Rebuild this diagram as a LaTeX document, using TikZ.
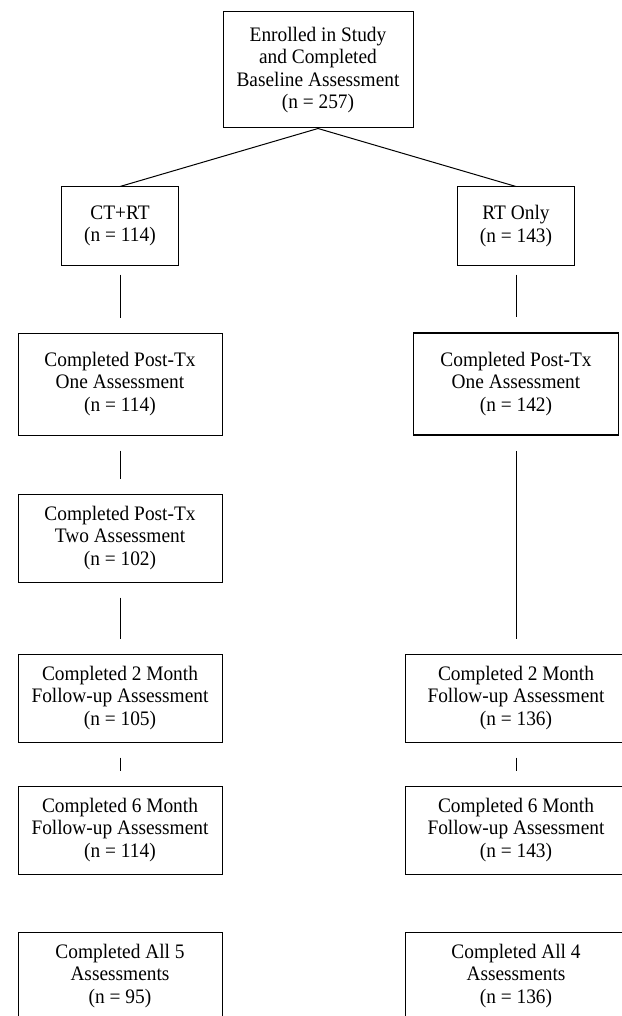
\documentclass[tikz,border=0pt]{standalone}
\usepackage{fontspec}
\setmainfont{Liberation Serif}[FakeStretch=0.94]
\usepackage{tikz}
\usetikzlibrary{shapes}

\begin{document}
\begin{tikzpicture}[-, semithick, line width=1pt, inner sep=0pt,
    box/.style={draw, rectangle, align=center, font=\fontsize{20.6}{22.4}\selectfont},
    narrow/.style={box, minimum width=117pt, minimum height=78pt},
    wide/.style={box, minimum width=204pt, minimum height=88pt},
    wider/.style={box, minimum width=222pt, minimum height=88pt},
    link/.style={shorten <=15pt, shorten >=15pt}]

      \useasboundingbox (0,0) rectangle (621pt,-1016pt);

      \node[box, minimum width=190pt, minimum height=116pt] (base) at (318pt,-70pt)
        {Enrolled in Study\\and Completed\\Baseline Assessment\\(n = 257)};
      \node[narrow] (ct) [below of=base, node distance=156pt, xshift=-198pt] {CT+RT\\(n = 114)};
      \node[narrow] (rt) [right of=ct, node distance=396pt] {RT Only\\(n = 143)};

      % CT+RT column
      \node[wide, minimum height=102pt] (ctone) [below of=ct, node distance=158pt]
        {Completed Post-Tx\\One Assessment\\(n = 114)};
      \node[wide] (cttwo) [below of=ctone, node distance=154pt]
        {Completed Post-Tx\\Two Assessment\\(n = 102)};
      \node[wide] (cttwomo) [below of=cttwo, node distance=160pt]
        {Completed 2 Month\\Follow-up Assessment\\(n = 105)};
      \node[wide] (ctsixmo) [below of=cttwomo, node distance=132pt]
        {Completed 6 Month\\Follow-up Assessment\\(n = 114)};
      \node[wide] (ctall) [below of=ctsixmo, node distance=146pt]
        {Completed All 5\\Assessments\\(n = 95)};

      % RT only column
      \node[wide, minimum width=205pt, minimum height=102pt, line width=1.8pt] (rtone) [below of=rt, node distance=158pt]
        {Completed Post-Tx\\One Assessment\\(n = 142)};
      \node[wider] (rttwomo) [below of=rtone, node distance=314pt]
        {Completed 2 Month\\Follow-up Assessment\\(n = 136)};
      \node[wider] (rtsixmo) [below of=rttwomo, node distance=132pt]
        {Completed 6 Month\\Follow-up Assessment\\(n = 143)};
      \node[wider] (rtall) [below of=rtsixmo, node distance=146pt]
        {Completed All 4\\Assessments\\(n = 136)};

      \path
      (base.south) edge (ct.north)
      (base.south) edge (rt.north)
      (ct) edge [link, shorten <=9pt] (ctone)
      (ctone) edge [link] (cttwo)
      (cttwo) edge [link] (cttwomo)
      (cttwomo) edge [link] (ctsixmo)
      (rt) edge [link, shorten <=9pt] (rtone)
      (rtone) edge [link] (rttwomo)
      (rttwomo) edge [link] (rtsixmo);
    \end{tikzpicture}
\end{document}
